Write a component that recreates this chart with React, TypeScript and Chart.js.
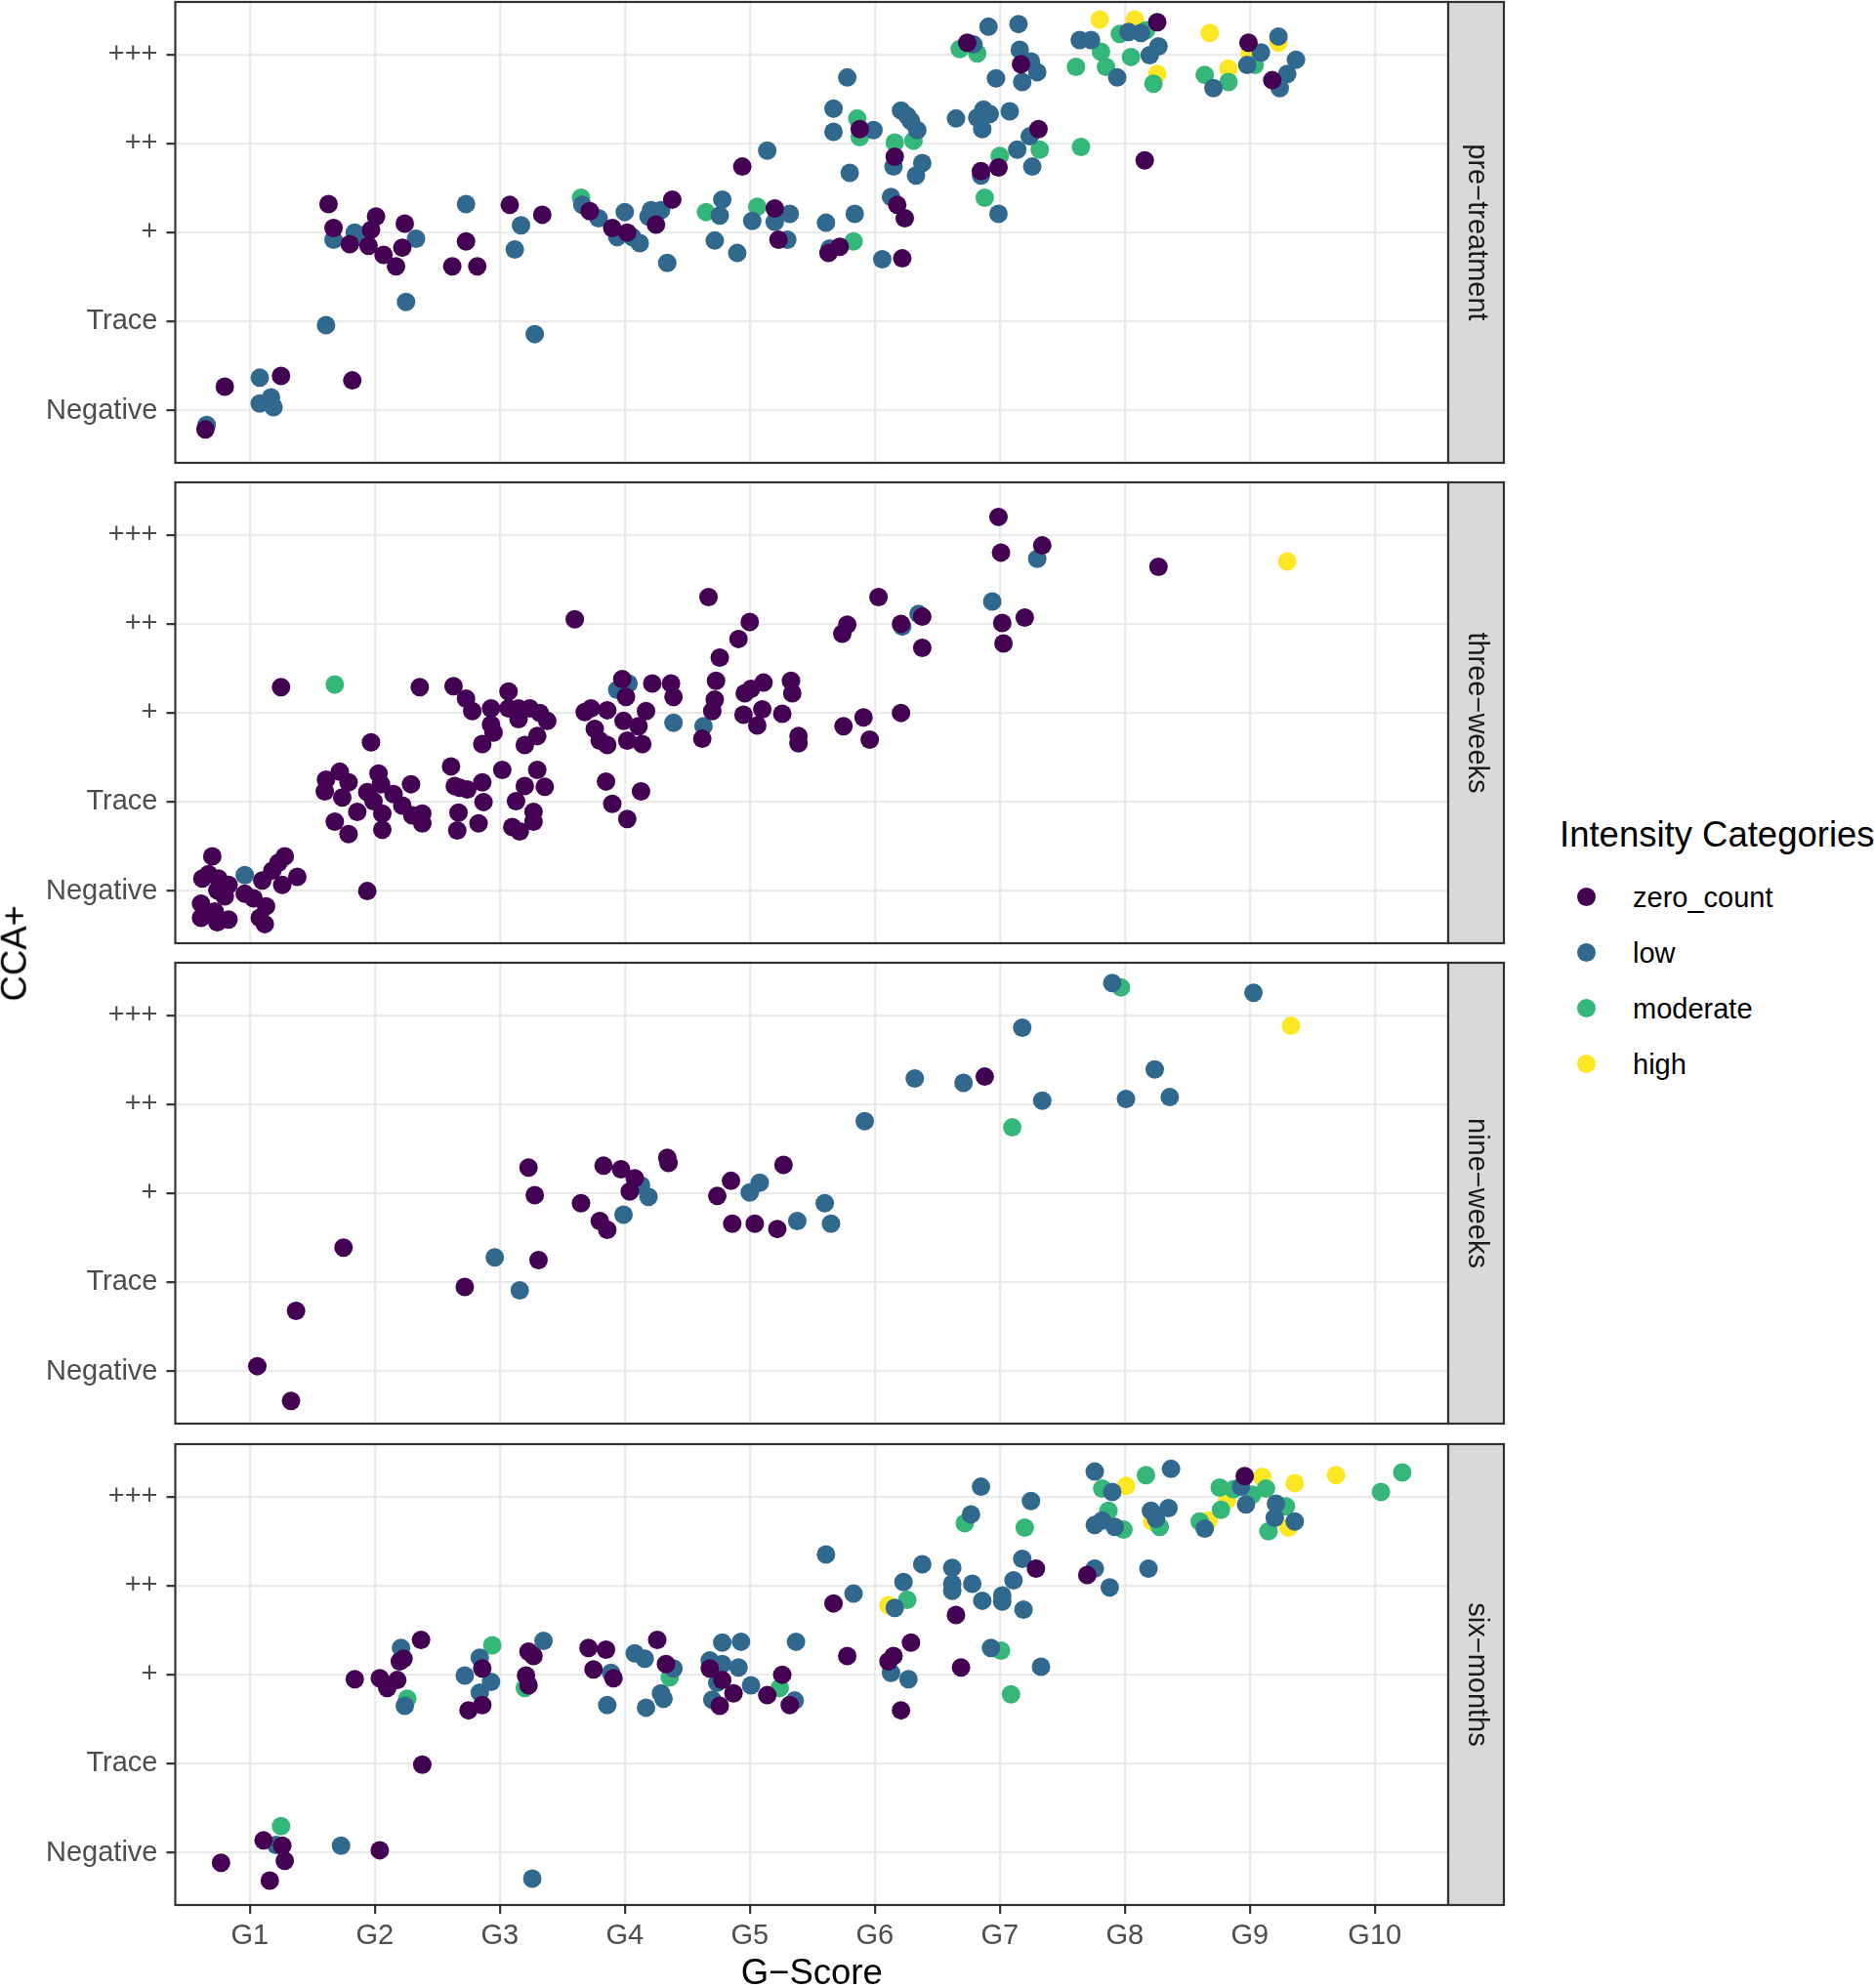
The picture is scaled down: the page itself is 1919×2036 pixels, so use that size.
import { useEffect, useRef } from 'react'
import Chart from 'chart.js/auto'

// [G-score, CCA+ level (jittered), category index]
type Pt = [number, number, number]

const categories = ['zero_count', 'low', 'moderate', 'high']
const categoryColors = ['#440154', '#31688E', '#35B779', '#FDE725']
const xTickLabels = ['G1', 'G2', 'G3', 'G4', 'G5', 'G6', 'G7', 'G8', 'G9', 'G10']
const yTickLabels = ['Negative', 'Trace', '+', '++', '+++']
const panelNames = ['pre−treatment', 'three−weeks', 'nine−weeks', 'six−months']

const preTreatment: Pt[] = [
  [0.655, -0.16, 1], [0.645, -0.21, 0], [0.8, 0.27, 0], [1.08, 0.37, 1], [1.25, 0.39, 0], [1.08, 0.08, 1],
  [1.17, 0.15, 1], [1.19, 0.04, 1], [1.82, 0.34, 0], [1.61, 0.96, 1], [2.25, 1.22, 1], [3.28, 0.86, 1],
  [1.63, 2.32, 0], [1.67, 2.05, 0], [1.67, 1.92, 1], [1.8, 1.87, 0], [1.84, 2.0, 1], [1.89, 1.95, 1],
  [1.97, 2.03, 0], [2.01, 2.18, 0], [1.95, 1.85, 0], [2.07, 1.75, 0], [2.17, 1.62, 0], [2.22, 1.83, 0],
  [2.24, 2.1, 0], [2.33, 1.93, 1], [2.62, 1.62, 0], [2.82, 1.62, 0], [2.73, 2.32, 1], [2.73, 1.9, 0],
  [3.08, 2.31, 0], [3.17, 2.08, 1], [3.12, 1.81, 1], [3.34, 2.2, 0], [3.65, 2.39, 2], [3.66, 2.31, 1],
  [3.72, 2.24, 0], [3.79, 2.16, 1], [3.9, 2.05, 0], [3.94, 1.95, 1], [4.02, 2.0, 0], [4.06, 1.95, 1],
  [4.12, 1.88, 1], [4.0, 2.23, 1], [4.19, 2.18, 1], [4.21, 2.25, 1], [4.29, 2.25, 1], [4.25, 2.09, 0],
  [4.38, 2.37, 0], [4.34, 1.66, 1], [4.65, 2.23, 2], [4.78, 2.37, 1], [4.76, 2.19, 1], [4.72, 1.91, 1],
  [4.9, 1.77, 1], [4.94, 2.74, 0], [5.14, 2.92, 1], [5.02, 2.13, 1], [5.06, 2.29, 2], [5.2, 2.27, 0],
  [5.2, 2.12, 1], [5.32, 2.21, 1], [5.23, 1.92, 0], [5.3, 1.92, 1],
  [5.61, 2.11, 1], [5.63, 1.77, 0], [5.64, 1.82, 1], [5.72, 1.84, 0], [5.83, 1.9, 2], [5.84, 2.21, 1],
  [6.06, 1.7, 1], [6.22, 1.71, 0], [5.78, 3.74, 1], [5.67, 3.39, 1], [5.67, 3.13, 1], [5.86, 3.28, 2],
  [5.88, 3.16, 0], [5.88, 3.07, 2], [5.99, 3.15, 1], [5.8, 2.67, 1], [6.16, 3.01, 2], [6.16, 2.85, 0],
  [6.15, 2.74, 1], [6.31, 3.03, 2], [6.21, 3.37, 1], [6.26, 3.31, 1], [6.29, 3.25, 1], [6.34, 3.15, 1],
  [6.38, 2.78, 1], [6.33, 2.64, 1], [6.13, 2.4, 1], [6.18, 2.31, 0], [6.24, 2.16, 0], [6.65, 3.28, 1],
  [6.82, 3.29, 1], [6.87, 3.38, 1], [6.92, 3.33, 1], [6.86, 3.16, 1], [7.08, 3.36, 1], [7.31, 3.16, 0],
  [7.24, 3.08, 1], [7.14, 2.93, 1], [7.32, 2.93, 2], [7.0, 2.86, 2], [6.99, 2.73, 0], [6.85, 2.69, 0],
  [6.85, 2.64, 1], [7.26, 2.74, 1], [6.88, 2.39, 2], [6.99, 2.21, 1], [7.65, 2.96, 2], [8.16, 2.81, 0],
  [6.68, 4.06, 2], [6.74, 4.13, 0], [6.79, 4.11, 1], [6.82, 4.01, 2], [6.91, 4.31, 1], [7.15, 4.34, 1],
  [7.16, 4.05, 1], [7.17, 3.89, 0], [7.25, 3.92, 1], [7.3, 3.8, 1], [6.97, 3.73, 1], [7.18, 3.69, 1],
  [7.61, 3.86, 2], [7.64, 4.16, 1], [7.73, 4.16, 1], [7.8, 4.39, 3], [7.81, 4.03, 2], [7.85, 3.86, 2],
  [7.94, 3.74, 1], [7.96, 4.23, 2], [8.03, 4.25, 1], [8.08, 4.39, 3], [8.13, 4.24, 1], [8.17, 4.27, 2],
  [8.26, 4.36, 0], [8.05, 3.97, 2], [8.2, 3.99, 1], [8.27, 4.09, 1], [8.26, 3.78, 3], [8.23, 3.67, 2],
  [8.68, 4.24, 3], [8.64, 3.77, 2], [8.71, 3.62, 1], [8.83, 3.84, 3], [8.83, 3.69, 2], [8.99, 4.13, 0],
  [9.0, 4.01, 3], [9.09, 4.02, 1], [8.98, 3.88, 1], [9.04, 3.88, 2], [9.23, 4.13, 3], [9.23, 4.2, 1],
  [9.37, 3.94, 1], [9.3, 3.78, 1], [9.18, 3.71, 0], [9.24, 3.62, 1],
]

const threeWeeks: Pt[] = [
  [0.7, 0.39, 0], [0.62, 0.14, 0], [0.67, 0.19, 0], [0.75, 0.14, 0], [0.83, 0.07, 0], [0.74, 0.01, 0],
  [0.8, -0.06, 0], [0.61, -0.14, 0], [0.61, -0.3, 0], [0.74, -0.35, 0], [0.83, -0.32, 0], [0.72, -0.23, 0],
  [0.96, 0.18, 1], [0.96, -0.03, 0], [1.03, -0.08, 0], [1.1, 0.12, 0], [1.18, 0.23, 0], [1.23, 0.32, 0],
  [1.28, 0.39, 0], [1.26, 0.07, 0], [1.38, 0.16, 0], [1.13, -0.17, 0], [1.08, -0.3, 0], [1.12, -0.37, 0],
  [1.94, 0.0, 0], [1.97, 1.67, 0], [1.25, 2.29, 0], [1.68, 2.32, 2], [2.36, 2.29, 0], [1.61, 1.25, 0],
  [1.72, 1.34, 0], [1.79, 1.22, 0], [1.6, 1.12, 0], [1.74, 1.05, 0], [1.68, 0.78, 0], [1.79, 0.64, 0],
  [1.86, 0.89, 0], [1.94, 1.11, 0], [2.03, 1.32, 0], [2.05, 1.2, 0], [1.99, 1.01, 0], [2.06, 0.87, 0],
  [2.06, 0.69, 0], [2.15, 1.09, 0], [2.22, 0.96, 0], [2.29, 1.2, 0], [2.3, 0.85, 0], [2.38, 0.87, 0],
  [2.38, 0.76, 0], [2.61, 1.4, 0], [2.64, 1.18, 0], [2.68, 1.16, 0], [2.74, 1.14, 0], [2.86, 1.22, 0],
  [2.87, 1.0, 0], [2.67, 0.88, 0], [2.66, 0.68, 0], [2.83, 0.76, 0], [3.02, 1.36, 0], [3.3, 1.36, 0],
  [3.2, 1.18, 0], [3.36, 1.17, 0], [3.13, 1.01, 0], [3.27, 0.89, 0], [3.27, 0.78, 0], [3.1, 0.72, 0],
  [3.16, 0.67, 0], [2.63, 2.3, 0], [2.73, 2.16, 0], [2.78, 2.02, 0], [2.93, 2.05, 0], [3.07, 2.24, 0],
  [3.07, 2.05, 0], [3.15, 2.05, 0], [3.15, 1.93, 0], [3.24, 2.05, 0], [3.32, 2.0, 0], [3.38, 1.91, 0],
  [2.93, 1.87, 0], [2.95, 1.78, 0], [2.86, 1.65, 0], [3.2, 1.64, 0], [3.3, 1.74, 0], [3.6, 3.05, 0],
  [3.68, 2.01, 0], [3.73, 2.05, 0], [3.86, 2.03, 0], [3.76, 1.82, 0], [3.8, 1.69, 0], [3.86, 1.64, 0],
  [3.98, 2.38, 0], [3.94, 2.26, 1], [4.03, 2.33, 1], [4.01, 2.18, 0], [3.99, 1.91, 0], [4.02, 1.69, 0],
  [4.14, 1.65, 0], [4.11, 1.85, 0], [4.17, 2.02, 0], [4.22, 2.33, 0], [4.37, 2.33, 0], [4.39, 2.18, 0],
  [4.39, 1.89, 1], [3.85, 1.23, 0], [4.13, 1.12, 0], [3.9, 0.98, 0], [4.02, 0.81, 0], [4.67, 3.3, 0],
  [5.0, 3.02, 0], [4.91, 2.83, 0], [4.76, 2.62, 0], [4.73, 2.36, 0], [4.72, 2.15, 0], [4.7, 2.02, 0],
  [4.63, 1.85, 1], [4.62, 1.71, 0], [4.96, 2.22, 0], [5.01, 2.27, 0], [5.11, 2.34, 0], [4.95, 1.98, 0],
  [5.1, 2.04, 0], [5.06, 1.86, 0], [5.26, 1.99, 0], [5.33, 2.36, 0], [5.34, 2.22, 0], [5.39, 1.74, 0],
  [5.39, 1.66, 0], [5.75, 1.85, 0], [5.91, 1.95, 0], [5.96, 1.7, 0], [6.21, 2.0, 0], [5.74, 2.89, 0],
  [5.78, 2.99, 0], [6.03, 3.3, 0], [6.21, 3.0, 0], [6.22, 2.97, 1], [6.35, 3.11, 1], [6.38, 3.08, 0],
  [6.38, 2.73, 0], [6.94, 3.25, 1], [7.02, 3.01, 0], [7.03, 2.78, 0], [7.2, 3.07, 0], [6.99, 4.2, 0],
  [7.01, 3.8, 0], [7.34, 3.88, 0], [7.3, 3.73, 1], [8.27, 3.64, 0], [9.3, 3.7, 3],
]

const nineWeeks: Pt[] = [
  [1.06, 0.06, 0], [1.33, -0.33, 0], [1.37, 0.68, 0], [1.75, 1.39, 0], [2.72, 0.95, 0], [2.96, 1.28, 1],
  [3.16, 0.91, 1], [3.31, 1.25, 0], [3.23, 2.29, 0], [3.28, 1.98, 0], [3.65, 1.89, 0], [3.83, 2.31, 0],
  [3.97, 2.27, 0], [4.08, 2.17, 0], [4.13, 2.09, 1], [4.04, 2.02, 0], [4.19, 1.96, 1], [3.99, 1.76, 1],
  [3.8, 1.69, 0], [3.86, 1.59, 0], [4.34, 2.4, 0], [4.35, 2.34, 0], [4.85, 2.14, 0], [5.08, 2.12, 1],
  [5.0, 2.01, 1], [4.74, 1.97, 0], [5.27, 2.32, 0], [4.86, 1.66, 0], [5.04, 1.66, 0], [5.22, 1.6, 0],
  [5.38, 1.69, 1], [5.6, 1.89, 1], [5.65, 1.66, 1], [5.92, 2.81, 1], [6.32, 3.29, 1], [6.71, 3.24, 1],
  [6.88, 3.31, 0], [7.34, 3.04, 1], [7.1, 2.74, 2], [7.18, 3.86, 1], [7.9, 4.36, 1], [7.97, 4.31, 2],
  [8.01, 3.06, 1], [8.24, 3.39, 1], [8.36, 3.08, 1], [9.03, 4.25, 1], [9.33, 3.88, 3],
]

const sixMonths: Pt[] = [
  [0.77, -0.11, 0], [1.11, 0.14, 0], [1.25, 0.3, 2], [1.21, 0.09, 1], [1.26, 0.08, 0], [1.28, -0.09, 0],
  [1.16, -0.31, 0], [1.73, 0.08, 1], [2.04, 0.03, 0], [3.26, -0.29, 1], [2.38, 0.99, 0], [1.84, 1.95, 0],
  [2.04, 1.96, 0], [2.1, 1.85, 0], [2.18, 1.94, 0], [2.21, 2.3, 1], [2.2, 2.15, 0], [2.23, 2.18, 0],
  [2.37, 2.39, 0], [2.24, 1.65, 1], [2.26, 1.73, 2], [2.72, 1.99, 1], [2.84, 2.19, 1], [2.94, 2.33, 2],
  [2.86, 2.07, 0], [2.93, 1.92, 1], [2.84, 1.8, 1], [2.86, 1.66, 0], [2.75, 1.6, 0], [3.23, 2.26, 0],
  [3.27, 2.21, 0], [3.35, 2.38, 1], [3.21, 1.99, 0], [3.2, 1.85, 2], [3.23, 1.88, 0], [3.71, 2.3, 0],
  [3.85, 2.28, 0], [3.75, 2.06, 0], [3.89, 2.02, 1], [3.91, 1.96, 0], [3.86, 1.66, 1], [4.08, 2.24, 1],
  [4.16, 2.18, 1], [4.26, 2.39, 0], [4.33, 2.12, 0], [4.39, 2.07, 1], [4.36, 1.97, 2], [4.29, 1.79, 1],
  [4.31, 1.73, 1], [4.17, 1.63, 1], [4.68, 2.16, 1], [4.68, 2.07, 0], [4.78, 2.12, 1], [4.78, 2.36, 1],
  [4.93, 2.37, 1], [4.91, 2.08, 1], [4.78, 1.94, 0], [4.74, 1.91, 1], [4.7, 1.72, 1], [4.76, 1.65, 0],
  [4.87, 1.79, 0], [5.01, 1.88, 1], [5.14, 1.77, 0], [5.24, 1.85, 2], [5.26, 2.0, 0], [5.32, 1.66, 0],
  [5.36, 1.71, 1], [5.37, 2.37, 1], [5.61, 3.35, 1], [5.67, 2.8, 0], [5.83, 2.91, 1], [5.78, 2.21, 0],
  [6.11, 2.78, 3], [6.16, 2.75, 1], [6.26, 2.84, 2], [6.23, 3.04, 1], [6.38, 3.24, 1], [6.29, 2.36, 0],
  [6.15, 2.21, 0], [6.11, 2.15, 0], [6.13, 2.02, 1], [6.27, 1.95, 1], [6.21, 1.6, 0], [6.65, 2.67, 0],
  [6.62, 3.2, 1], [6.62, 3.02, 1], [6.62, 2.94, 1], [6.78, 3.02, 1], [6.86, 2.83, 1], [7.02, 2.89, 1],
  [7.02, 2.82, 1], [7.11, 3.06, 1], [7.18, 3.3, 1], [7.29, 3.19, 0], [7.19, 2.73, 1], [6.93, 2.3, 1],
  [7.01, 2.27, 2], [6.69, 2.08, 0], [7.33, 2.09, 1], [7.09, 1.78, 2], [6.85, 4.11, 1], [6.77, 3.8, 1],
  [6.72, 3.7, 2], [7.25, 3.95, 1], [7.2, 3.65, 2], [7.76, 3.19, 1], [7.7, 3.12, 0], [7.88, 2.98, 1],
  [8.19, 3.19, 1], [7.76, 4.28, 1], [7.82, 4.09, 2], [7.9, 4.05, 1], [8.01, 4.12, 3], [8.17, 4.24, 2],
  [8.37, 4.31, 1], [7.87, 3.84, 2], [7.82, 3.73, 1], [7.76, 3.68, 1], [7.92, 3.66, 1], [7.99, 3.63, 2],
  [8.21, 3.84, 1], [8.22, 3.72, 3], [8.25, 3.75, 1], [8.28, 3.66, 2], [8.35, 3.87, 1], [8.6, 3.72, 2],
  [8.64, 3.64, 1], [8.67, 3.73, 3], [8.77, 3.85, 2], [8.76, 4.1, 2], [8.82, 3.96, 3], [8.87, 4.08, 2],
  [8.93, 4.11, 1], [8.96, 4.23, 0], [9.02, 4.02, 2], [8.97, 3.91, 1], [9.1, 4.22, 3], [9.13, 4.09, 2],
  [9.21, 3.92, 1], [9.29, 3.89, 2], [9.2, 3.76, 1], [9.31, 3.65, 3], [9.36, 3.72, 1], [9.15, 3.61, 2],
  [9.36, 4.15, 3], [9.69, 4.24, 3], [10.05, 4.05, 2], [10.22, 4.27, 2],
]

const panelData = [preTreatment, threeWeeks, nineWeeks, sixMonths]

const FONT = '"Liberation Sans", Arial, Helvetica, sans-serif'
Chart.defaults.font.family = FONT

// layout (pixels on the 1919x2036 page)
const PANEL_LEFT = 179.5
const PANEL_RIGHT = 1483
const STRIP_W = 57
const CANVAS_W = 1545
const PANEL_TOPS = [2, 493.5, 986, 1478.5]
const PANEL_H = 472
const X_AXIS_H = 85.5
const PAD = 4
const X_MIN = 0.404
const X_MAX = 10.588
const Y_MIN = -0.585
const Y_MAX = 4.588

const framePlugin = (label: string) => ({
  id: 'panelFrame',
  afterDraw(chart: Chart) {
    const { ctx, chartArea: a } = chart
    const h = a.bottom - a.top
    ctx.save()
    ctx.strokeStyle = '#333333'
    ctx.lineWidth = 2.2
    ctx.strokeRect(a.left, a.top, a.right - a.left, h)
    ctx.fillStyle = '#D9D9D9'
    ctx.fillRect(a.right, a.top, STRIP_W, h)
    ctx.strokeRect(a.right, a.top, STRIP_W, h)
    ctx.translate(a.right + STRIP_W / 2, a.top + h / 2)
    ctx.rotate(Math.PI / 2)
    ctx.fillStyle = '#1A1A1A'
    ctx.font = `29px ${FONT}`
    ctx.textAlign = 'center'
    ctx.textBaseline = 'middle'
    ctx.fillText(label, 0, 0)
    ctx.restore()
  },
})

function FacetPanel({ index }: { index: number }) {
  const canvasRef = useRef<HTMLCanvasElement>(null)
  const isLast = index === panelData.length - 1
  const height = PAD + PANEL_H + (isLast ? X_AXIS_H : PAD)

  useEffect(() => {
    if (!canvasRef.current) return
    const points = panelData[index]

    const chart = new Chart(canvasRef.current, {
      type: 'scatter',
      data: {
        datasets: categories.map((name, c) => ({
          label: name,
          data: points.filter((p) => p[2] === c).map(([x, y]) => ({ x, y })),
          backgroundColor: categoryColors[c],
          borderColor: categoryColors[c],
          pointRadius: 9.5,
          pointHoverRadius: 9.5,
          pointBorderWidth: 0,
        })),
      },
      options: {
        animation: false,
        responsive: true,
        maintainAspectRatio: false,
        events: [],
        layout: {
          autoPadding: false,
          padding: { left: 0, right: CANVAS_W - PANEL_RIGHT, top: PAD, bottom: isLast ? 0 : PAD },
        },
        plugins: {
          legend: { display: false },
          tooltip: { enabled: false },
        },
        scales: {
          x: {
            type: 'linear',
            min: X_MIN,
            max: X_MAX,
            bounds: 'data',
            afterBuildTicks: (s: any) => {
              s.ticks = xTickLabels.map((_, i) => ({ value: i + 1 }))
            },
            afterFit: (s: any) => {
              s.height = isLast ? X_AXIS_H : 0
              s.paddingLeft = 0
              s.paddingRight = 0
            },
            grid: {
              color: '#EBEBEB',
              lineWidth: 2.3,
              drawTicks: isLast,
              tickLength: 9,
              tickColor: '#333333',
              tickWidth: 2.2,
            },
            border: { display: false },
            ticks: {
              display: isLast,
              autoSkip: false,
              maxRotation: 0,
              padding: 6,
              color: '#4D4D4D',
              font: { size: 29 },
              callback: (v: any) => xTickLabels[Math.round(Number(v)) - 1],
            },
            title: {
              display: isLast,
              text: 'G−Score',
              color: '#000000',
              font: { size: 36.5, lineHeight: 1 },
              padding: { top: 0, bottom: -4 },
            },
          },
          y: {
            type: 'linear',
            min: Y_MIN,
            max: Y_MAX,
            bounds: 'data',
            afterBuildTicks: (s: any) => {
              s.ticks = yTickLabels.map((_, i) => ({ value: i }))
            },
            afterFit: (s: any) => {
              s.width = PANEL_LEFT
              s.paddingTop = 0
              s.paddingBottom = 0
            },
            grid: {
              color: '#EBEBEB',
              lineWidth: 2.3,
              drawTicks: true,
              tickLength: 9,
              tickColor: '#333333',
              tickWidth: 2.2,
            },
            border: { display: false },
            ticks: {
              autoSkip: false,
              padding: 9,
              color: '#4D4D4D',
              font: { size: 29 },
              callback: (v: any) => yTickLabels[Math.round(Number(v))],
            },
          },
        },
      },
      plugins: [framePlugin(panelNames[index])],
    })

    return () => chart.destroy()
  }, [index, isLast])

  return (
    <div
      style={{
        position: 'absolute',
        left: 0,
        top: PANEL_TOPS[index] - PAD,
        width: CANVAS_W,
        height,
      }}
    >
      <canvas ref={canvasRef} />
    </div>
  )
}

export default function App() {
  return (
    <div
      style={{
        position: 'absolute',
        left: 0,
        top: 0,
        width: 1919,
        height: 2036,
        background: '#FFFFFF',
        fontFamily: FONT,
        overflow: 'hidden',
      }}
    >
      {panelData.map((_, i) => (
        <FacetPanel key={i} index={i} />
      ))}

      {/* shared y axis title */}
      <div
        style={{
          position: 'absolute',
          left: 15 - 100,
          top: 976 - 18.25,
          width: 200,
          height: 36.5,
          lineHeight: '36.5px',
          fontSize: 36.5,
          textAlign: 'center',
          color: '#000000',
          transform: 'rotate(-90deg)',
        }}
      >
        CCA+
      </div>

      {/* legend */}
      <div
        style={{
          position: 'absolute',
          left: 1597,
          top: 836.5,
          fontSize: 36.5,
          lineHeight: '36.5px',
          whiteSpace: 'nowrap',
          color: '#000000',
        }}
      >
        Intensity Categories
      </div>
      {categories.map((name, i) => (
        <div key={name}>
          <div
            style={{
              position: 'absolute',
              left: 1624 - 9.5,
              top: 918 + i * 57 - 9.5,
              width: 19,
              height: 19,
              borderRadius: '50%',
              background: categoryColors[i],
            }}
          />
          <div
            style={{
              position: 'absolute',
              left: 1672,
              top: 918 + i * 57 - 14.5 + 1,
              fontSize: 29,
              lineHeight: '29px',
              whiteSpace: 'nowrap',
              color: '#000000',
            }}
          >
            {name}
          </div>
        </div>
      ))}
    </div>
  )
}
